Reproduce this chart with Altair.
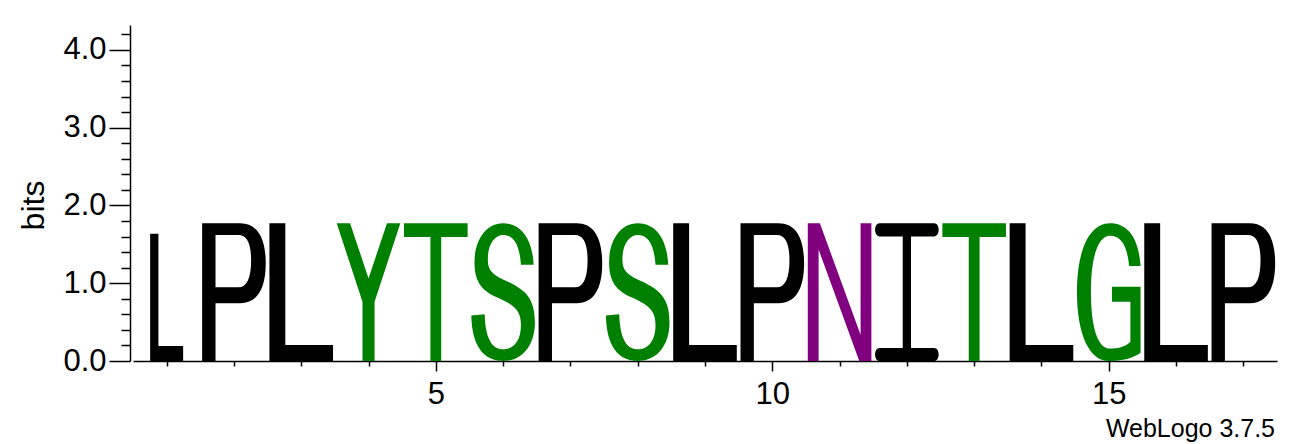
import re
import pandas as pd
import altair as alt

# ------- sequence logo data --------
positions = [1, 2, 3, 4, 5, 6, 7, 8, 9, 10, 11, 12, 13, 14, 15, 16, 17]
letters = ["L", "P", "L", "Y", "T", "S", "P", "S", "L", "P", "N", "I", "T", "L", "G", "L", "P"]
bits = [1.635, 1.77, 1.77, 1.77, 1.77, 1.77, 1.77, 1.77, 1.77, 1.77, 1.77, 1.77, 1.77, 1.77, 1.77, 1.77, 1.77]
col_width = [0.49, 0.945, 0.945, 0.945, 0.945, 0.945, 0.945, 0.945, 0.945, 0.945, 0.945, 0.945, 0.945, 0.945, 0.945, 0.945, 0.945]

# WebLogo "chemistry" colours
scheme_letters = ["L", "P", "I", "Y", "T", "S", "G", "N"]
scheme_colors = ["#000000", "#000000", "#000000", "#008000", "#008000", "#008000", "#008000", "#800080"]

y_ticks = [0, 0.2, 0.4, 0.6, 0.8, 1, 1.2, 1.4, 1.6, 1.8, 2, 2.2, 2.4, 2.6, 2.8, 3, 3.2, 3.4, 3.6, 3.8, 4, 4.2]

W, H = 1144, 336
Y_MAX = 4.32
FONT = "Liberation Sans"

# glyph outlines in a unit box (x 0..1 left->right, y 0..1 baseline->cap height)
GLYPHS = {
    "L": "M0,0 L1,0 L1,0.117 L0.25,0.117 L0.25,1 L0,1 Z",
    "P": ("M0,0 L0,1 L0.6,1 C0.86,1 1,0.9 1,0.71 C1,0.52 0.86,0.42 0.6,0.42 L0.21,0.42 L0.21,0 Z "
          "M0.21,0.535 L0.57,0.535 C0.7,0.535 0.77,0.6 0.77,0.73 C0.77,0.86 0.7,0.915 0.57,0.915 L0.21,0.915 Z"),
    "Y": "M0.405,0 L0.595,0 L0.595,0.43 L1,1 L0.79,1 L0.5,0.6 L0.21,1 L0,1 L0.405,0.43 Z",
    "T": "M0.415,0 L0.585,0 L0.585,0.9 L1,0.9 L1,1 L0,1 L0,0.9 L0.415,0.9 Z",
    "N": "M0,0 L0,1 L0.19,1 L0.83,0.19 L0.83,1 L1,1 L1,0 L0.81,0 L0.17,0.81 L0.17,0 Z",
    "S": ("M0.98,0.7 C0.96,0.89 0.78,1 0.5,1 C0.22,1 0.05,0.87 0.05,0.72 "
          "C0.05,0.57 0.17,0.51 0.42,0.46 C0.7,0.4 0.78,0.36 0.78,0.26 "
          "C0.78,0.15 0.67,0.085 0.5,0.085 C0.32,0.085 0.22,0.17 0.21,0.34 L0,0.33 "
          "C0.01,0.11 0.19,0 0.5,0 C0.81,0 1,0.12 1,0.28 C1,0.46 0.84,0.52 0.56,0.58 "
          "C0.32,0.63 0.26,0.66 0.26,0.74 C0.26,0.85 0.37,0.915 0.5,0.915 "
          "C0.67,0.915 0.76,0.84 0.78,0.7 Z"),
    "G": ("M1,0.69 C0.97,0.9 0.79,1 0.52,1 C0.19,1 0,0.8 0,0.5 C0,0.19 0.2,0 0.5,0 "
          "C0.72,0 0.88,0.02 1,0.06 L1,0.54 L0.55,0.54 L0.55,0.43 L0.84,0.43 L0.84,0.14 "
          "C0.75,0.1 0.64,0.09 0.52,0.09 C0.33,0.09 0.22,0.24 0.22,0.5 "
          "C0.22,0.77 0.34,0.91 0.52,0.91 C0.69,0.91 0.79,0.84 0.82,0.69 Z"),
    "I": ("M0.07,1 L0.93,1 C0.97,1 1,0.98 1,0.9525 C1,0.925 0.97,0.905 0.93,0.905 "
          "L0.565,0.905 L0.565,0.095 L0.93,0.095 C0.97,0.095 1,0.075 1,0.0475 "
          "C1,0.02 0.97,0 0.93,0 L0.07,0 C0.03,0 0,0.02 0,0.0475 C0,0.075 0.03,0.095 0.07,0.095 "
          "L0.435,0.095 L0.435,0.905 L0.07,0.905 C0.03,0.905 0,0.925 0,0.9525 C0,0.98 0.03,1 0.07,1 Z"),
}


def glyph_path(letter, w_cols, h_bits):
    # symbol paths live in [-1, 1]; squeeze x so the letter keeps its own width/height
    a = (w_cols * W / 17) / (h_bits * H / Y_MAX)

    def conv(m):
        x, y = float(m.group(1)), float(m.group(2))
        return f"{(2 * x - 1) * a:.4f},{1 - 2 * y:.4f}"

    return re.sub(r"(-?[\d.]+),(-?[\d.]+)", conv, GLYPHS[letter])


df = pd.DataFrame({"position": positions, "letter": letters, "bits": bits, "width": col_width})
df["glyph"] = [glyph_path(l, w, h) for l, w, h in zip(letters, col_width, bits)]

x_axis = alt.Axis(
    values=positions, title=None, grid=False,
    labelExpr="datum.value % 5 === 0 ? datum.label : ''",
    labelFont=FONT, labelFontSize=31, labelColor="black", labelPadding=8,
    labelOverlap=False, labelFlush=False,
    tickSize={"condition": {"test": "datum.value % 5 === 0", "value": 10}, "value": 5},
    tickColor="black", tickWidth=1.5, domainColor="black", domainWidth=1.5,
)

y_axis = alt.Axis(
    values=y_ticks, title="bits", grid=False, offset=3,
    labelExpr="abs(datum.value - round(datum.value)) < 0.001 ? format(datum.value, '.1f') : ''",
    labelFont=FONT, labelFontSize=31, labelColor="black", labelPadding=3,
    labelOverlap=False, labelFlush=False,
    tickSize={"condition": {"test": "abs(datum.value - round(datum.value)) < 0.001", "value": 21}, "value": 9},
    tickColor="black", tickWidth=1.5, domainColor="black", domainWidth=1.5,
    titleFont=FONT, titleFontSize=32, titleFontWeight="normal", titleColor="black",
    titlePadding=12, titleY=180,
)

chart = alt.Chart(df).transform_calculate(
    mid="datum.bits / 2"
).mark_point(filled=True, opacity=1, strokeWidth=0).encode(
    x=alt.X("position:Q", scale=alt.Scale(domain=[0.5, 17.5], nice=False, zero=False), axis=x_axis),
    y=alt.Y("mid:Q", scale=alt.Scale(domain=[0, Y_MAX], nice=False), axis=y_axis),
    size=alt.Size("bits:Q", scale=alt.Scale(type="pow", exponent=2, domain=[0, Y_MAX], range=[0, H * H]),
                  legend=None),
    shape=alt.Shape("glyph:N", scale=None),
    color=alt.Color("letter:N", scale=alt.Scale(domain=scheme_letters, range=scheme_colors), legend=None),
    tooltip=["position:Q", "letter:N", "bits:Q"],
).properties(
    width=W,
    height=H,
    title=alt.TitleParams("WebLogo 3.7.5", orient="bottom", anchor="end", fontSize=25,
                          fontWeight="normal", font=FONT, color="black", offset=8, dx=-2),
    autosize=alt.AutoSizeParams(type="none"),
    padding={"left": 125, "top": 17, "right": 15, "bottom": 83},
).configure_view(strokeWidth=0)

chart.save("out.html", embed_options={"renderer": "svg", "actions": False})
